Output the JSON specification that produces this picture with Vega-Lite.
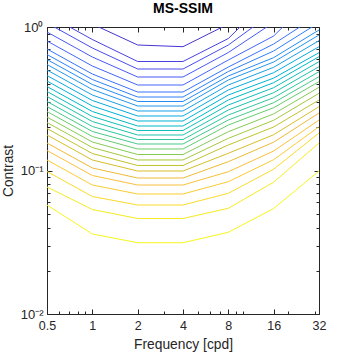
{
  "$schema": "https://vega.github.io/schema/vega-lite/v6.json",
  "width": 272,
  "height": 287,
  "autosize": {"type": "none"},
  "padding": {"left": 47, "top": 27, "right": 35, "bottom": 40},
  "background": "white",
  "title": {"text": "MS-SSIM", "fontSize": 14, "fontWeight": "bold", "font": "Liberation Sans", "color": "#000000", "offset": 5, "anchor": "middle"},
  "config": {
    "view": {"stroke": "#262626", "strokeWidth": 1},
    "axis": {"domain": false, "grid": false, "tickColor": "#262626", "tickWidth": 1, "labelFont": "Liberation Sans", "labelFontSize": 12.5, "labelColor": "#262626", "titleFont": "Liberation Sans", "titleFontSize": 13.8, "titleFontWeight": "normal", "titleColor": "#262626", "labelOverlap": false, "labelFlush": false}
  },
  "data": {"values": [
    {"level":1,"freq":0.5,"contrast":2.126},{"level":1,"freq":1,"contrast":1.049},{"level":1,"freq":2,"contrast":0.7492},{"level":1,"freq":4,"contrast":0.729},{"level":1,"freq":8,"contrast":1.049},{"level":1,"freq":16,"contrast":2.126},{"level":1,"freq":32,"contrast":4.04},
    {"level":2,"freq":0.5,"contrast":1.222},{"level":2,"freq":1,"contrast":0.8183},{"level":2,"freq":2,"contrast":0.5749},{"level":2,"freq":4,"contrast":0.5749},{"level":2,"freq":8,"contrast":0.8315},{"level":2,"freq":16,"contrast":1.698},{"level":2,"freq":32,"contrast":3.44},
    {"level":3,"freq":0.5,"contrast":1.0663},{"level":3,"freq":1,"contrast":0.714},{"level":3,"freq":2,"contrast":0.5097},{"level":3,"freq":4,"contrast":0.5097},{"level":3,"freq":8,"contrast":0.7492},{"level":3,"freq":16,"contrast":1.2721},{"level":3,"freq":32,"contrast":2.496},
    {"level":4,"freq":0.5,"contrast":0.9229},{"level":4,"freq":1,"contrast":0.6179},{"level":4,"freq":2,"contrast":0.4483},{"level":4,"freq":4,"contrast":0.4483},{"level":4,"freq":8,"contrast":0.6642},{"level":4,"freq":16,"contrast":1.0766},{"level":4,"freq":32,"contrast":2.126},
    {"level":5,"freq":0.5,"contrast":0.7988},{"level":5,"freq":1,"contrast":0.5349},{"level":5,"freq":2,"contrast":0.3943},{"level":5,"freq":4,"contrast":0.3943},{"level":5,"freq":8,"contrast":0.5889},{"level":5,"freq":16,"contrast":0.8655},{"level":5,"freq":32,"contrast":1.782},
    {"level":6,"freq":0.5,"contrast":0.7026},{"level":6,"freq":1,"contrast":0.4704},{"level":6,"freq":2,"contrast":0.3524},{"level":6,"freq":4,"contrast":0.3524},{"level":6,"freq":8,"contrast":0.5263},{"level":6,"freq":16,"contrast":0.7613},{"level":6,"freq":32,"contrast":1.222},
    {"level":7,"freq":0.5,"contrast":0.6432},{"level":7,"freq":1,"contrast":0.4307},{"level":7,"freq":2,"contrast":0.3252},{"level":7,"freq":4,"contrast":0.3252},{"level":7,"freq":8,"contrast":0.4897},{"level":7,"freq":16,"contrast":0.6804},{"level":7,"freq":32,"contrast":1.0731},
    {"level":8,"freq":0.5,"contrast":0.5936},{"level":8,"freq":1,"contrast":0.3975},{"level":8,"freq":2,"contrast":0.3026},{"level":8,"freq":4,"contrast":0.3026},{"level":8,"freq":8,"contrast":0.4556},{"level":8,"freq":16,"contrast":0.612},{"level":8,"freq":32,"contrast":0.953},
    {"level":9,"freq":0.5,"contrast":0.5479},{"level":9,"freq":1,"contrast":0.3668},{"level":9,"freq":2,"contrast":0.2815},{"level":9,"freq":4,"contrast":0.2815},{"level":9,"freq":8,"contrast":0.4272},{"level":9,"freq":16,"contrast":0.5703},{"level":9,"freq":32,"contrast":0.8795},
    {"level":10,"freq":0.5,"contrast":0.5016},{"level":10,"freq":1,"contrast":0.3358},{"level":10,"freq":2,"contrast":0.2598},{"level":10,"freq":4,"contrast":0.2598},{"level":10,"freq":8,"contrast":0.3943},{"level":10,"freq":16,"contrast":0.5238},{"level":10,"freq":32,"contrast":0.8027},
    {"level":11,"freq":0.5,"contrast":0.4592},{"level":11,"freq":1,"contrast":0.3075},{"level":11,"freq":2,"contrast":0.2398},{"level":11,"freq":4,"contrast":0.2398},{"level":11,"freq":8,"contrast":0.3639},{"level":11,"freq":16,"contrast":0.4803},{"level":11,"freq":32,"contrast":0.729},
    {"level":12,"freq":0.5,"contrast":0.4204},{"level":12,"freq":1,"contrast":0.2815},{"level":12,"freq":2,"contrast":0.2213},{"level":12,"freq":4,"contrast":0.2213},{"level":12,"freq":8,"contrast":0.3358},{"level":12,"freq":16,"contrast":0.4405},{"level":12,"freq":32,"contrast":0.6621},
    {"level":13,"freq":0.5,"contrast":0.3849},{"level":13,"freq":1,"contrast":0.2577},{"level":13,"freq":2,"contrast":0.2042},{"level":13,"freq":4,"contrast":0.2042},{"level":13,"freq":8,"contrast":0.31},{"level":13,"freq":16,"contrast":0.4091},{"level":13,"freq":32,"contrast":0.6209},
    {"level":14,"freq":0.5,"contrast":0.3553},{"level":14,"freq":1,"contrast":0.2379},{"level":14,"freq":2,"contrast":0.19},{"level":14,"freq":4,"contrast":0.19},{"level":14,"freq":8,"contrast":0.2861},{"level":14,"freq":16,"contrast":0.3776},{"level":14,"freq":32,"contrast":0.573},
    {"level":15,"freq":0.5,"contrast":0.3279},{"level":15,"freq":1,"contrast":0.2195},{"level":15,"freq":2,"contrast":0.1768},{"level":15,"freq":4,"contrast":0.1768},{"level":15,"freq":8,"contrast":0.264},{"level":15,"freq":16,"contrast":0.3485},{"level":15,"freq":32,"contrast":0.5289},
    {"level":16,"freq":0.5,"contrast":0.3026},{"level":16,"freq":1,"contrast":0.2026},{"level":16,"freq":2,"contrast":0.1644},{"level":16,"freq":4,"contrast":0.1644},{"level":16,"freq":8,"contrast":0.2436},{"level":16,"freq":16,"contrast":0.3216},{"level":16,"freq":32,"contrast":0.4881},
    {"level":17,"freq":0.5,"contrast":0.2792},{"level":17,"freq":1,"contrast":0.187},{"level":17,"freq":2,"contrast":0.153},{"level":17,"freq":4,"contrast":0.153},{"level":17,"freq":8,"contrast":0.2248},{"level":17,"freq":16,"contrast":0.2968},{"level":17,"freq":32,"contrast":0.4505},
    {"level":18,"freq":0.5,"contrast":0.2577},{"level":18,"freq":1,"contrast":0.1726},{"level":18,"freq":2,"contrast":0.1412},{"level":18,"freq":4,"contrast":0.1412},{"level":18,"freq":8,"contrast":0.2075},{"level":18,"freq":16,"contrast":0.2739},{"level":18,"freq":32,"contrast":0.4158},
    {"level":19,"freq":0.5,"contrast":0.236},{"level":19,"freq":1,"contrast":0.158},{"level":19,"freq":2,"contrast":0.1293},{"level":19,"freq":4,"contrast":0.1293},{"level":19,"freq":8,"contrast":0.1864},{"level":19,"freq":16,"contrast":0.248},{"level":19,"freq":32,"contrast":0.38},
    {"level":20,"freq":0.5,"contrast":0.216},{"level":20,"freq":1,"contrast":0.1446},{"level":20,"freq":2,"contrast":0.1184},{"level":20,"freq":4,"contrast":0.1184},{"level":20,"freq":8,"contrast":0.1676},{"level":20,"freq":16,"contrast":0.2238},{"level":20,"freq":32,"contrast":0.3451},
    {"level":21,"freq":0.5,"contrast":0.1962},{"level":21,"freq":1,"contrast":0.1313},{"level":21,"freq":2,"contrast":0.1084},{"level":21,"freq":4,"contrast":0.1084},{"level":21,"freq":8,"contrast":0.1506},{"level":21,"freq":16,"contrast":0.201},{"level":21,"freq":32,"contrast":0.31},
    {"level":22,"freq":0.5,"contrast":0.1768},{"level":22,"freq":1,"contrast":0.1184},{"level":22,"freq":2,"contrast":0.0992},{"level":22,"freq":4,"contrast":0.0992},{"level":22,"freq":8,"contrast":0.1318},{"level":22,"freq":16,"contrast":0.1776},{"level":22,"freq":32,"contrast":0.2784},
    {"level":23,"freq":0.5,"contrast":0.1554},{"level":23,"freq":1,"contrast":0.1041},{"level":23,"freq":2,"contrast":0.08865},{"level":23,"freq":4,"contrast":0.08865},{"level":23,"freq":8,"contrast":0.1152},{"level":23,"freq":16,"contrast":0.1575},{"level":23,"freq":32,"contrast":0.2516},
    {"level":24,"freq":0.5,"contrast":0.1378},{"level":24,"freq":1,"contrast":0.0923},{"level":24,"freq":2,"contrast":0.07924},{"level":24,"freq":4,"contrast":0.07924},{"level":24,"freq":8,"contrast":0.09809},{"level":24,"freq":16,"contrast":0.1367},{"level":24,"freq":32,"contrast":0.2248},
    {"level":25,"freq":0.5,"contrast":0.1184},{"level":25,"freq":1,"contrast":0.07924},{"level":25,"freq":2,"contrast":0.06859},{"level":25,"freq":4,"contrast":0.06859},{"level":25,"freq":8,"contrast":0.08355},{"level":25,"freq":16,"contrast":0.1189},{"level":25,"freq":32,"contrast":0.2019},
    {"level":26,"freq":0.5,"contrast":0.09841},{"level":26,"freq":1,"contrast":0.06588},{"level":26,"freq":2,"contrast":0.05748},{"level":26,"freq":4,"contrast":0.05748},{"level":26,"freq":8,"contrast":0.06937},{"level":26,"freq":16,"contrast":0.1021},{"level":26,"freq":32,"contrast":0.1825},
    {"level":27,"freq":0.5,"contrast":0.07674},{"level":27,"freq":1,"contrast":0.05349},{"level":27,"freq":2,"contrast":0.04629},{"level":27,"freq":4,"contrast":0.04629},{"level":27,"freq":8,"contrast":0.05453},{"level":27,"freq":16,"contrast":0.08289},{"level":27,"freq":32,"contrast":0.1554},
    {"level":28,"freq":0.5,"contrast":0.05748},{"level":28,"freq":1,"contrast":0.0361},{"level":28,"freq":2,"contrast":0.03139},{"level":28,"freq":4,"contrast":0.03139},{"level":28,"freq":8,"contrast":0.0371},{"level":28,"freq":16,"contrast":0.05435},{"level":28,"freq":32,"contrast":0.0992}
  ]},
  "layer": [
    {
      "mark": {"type": "line", "clip": true, "strokeWidth": 1},
      "encoding": {
        "x": {"field": "freq", "type": "quantitative",
          "scale": {"type": "log", "base": 2, "domain": [0.5, 32], "nice": false},
          "axis": {"orient": "bottom", "title": "Frequency [cpd]", "format": "~g",
            "values": [0.5,0.6,0.7,0.8,0.9,1,2,3,4,5,6,7,8,9,10,16,20,30,32],
            "labelExpr": "indexof([0.5,1,2,4,8,16,32], datum.value) >= 0 ? datum.label : ''",
            "tickSize": {"condition": {"test": "indexof([0.5,1,2,4,8,16,32], datum.value) >= 0", "value": -5}, "value": -3},
            "labelPadding": 10, "titlePadding": 4}},
        "y": {"field": "contrast", "type": "quantitative",
          "scale": {"type": "log", "domain": [0.01, 1], "nice": false},
          "axis": {"orient": "left", "title": "Contrast",
            "values": [0.01,0.02,0.03,0.04,0.05,0.06,0.07,0.08,0.09,0.1,0.2,0.3,0.4,0.5,0.6,0.7,0.8,0.9,1],
            "labelExpr": "datum.value == 1 ? '10⁰' : datum.value == 0.1 ? '10⁻¹' : datum.value == 0.01 ? '10⁻²' : ''",
            "labelFontSize": 13,
            "tickSize": {"condition": {"test": "indexof([0.01,0.1,1], datum.value) >= 0", "value": -5}, "value": -3},
            "labelPadding": 9, "titlePadding": 5}},
        "color": {"field": "level", "type": "quantitative", "legend": null,
          "scale": {"domain": [-0.7,1.16,3.021,4.881,6.741,8.602,10.462,12.322,14.183,16.043,17.903,19.763,21.624,23.484,25.344,27.205,28.6],
            "range": ["#3e26a8","#4537d5","#484df0","#4563fd","#327cfc","#2b91ef","#20a5e3","#08b5d0","#19bfb6","#31c69f","#64cd6f","#9dc943","#d1bf27","#f8ba3d","#fccf30","#f5ef20","#f9fb15"]}},
        "detail": {"field": "level", "type": "nominal"}
      }
    },
    {
      "mark": {"type": "line", "clip": true, "opacity": 0},
      "encoding": {
        "x": {"field": "freq", "type": "quantitative",
          "scale": {"type": "log", "base": 2, "domain": [0.5, 32], "nice": false},
          "axis": {"orient": "top", "title": null, "labels": false,
            "values": [0.5,0.6,0.7,0.8,0.9,1,2,3,4,5,6,7,8,9,10,16,20,30,32],
            "tickSize": {"condition": {"test": "indexof([0.5,1,2,4,8,16,32], datum.value) >= 0", "value": -5}, "value": -3}}},
        "y": {"field": "contrast", "type": "quantitative",
          "scale": {"type": "log", "domain": [0.01, 1], "nice": false},
          "axis": {"orient": "right", "title": null, "labels": false,
            "values": [0.01,0.02,0.03,0.04,0.05,0.06,0.07,0.08,0.09,0.1,0.2,0.3,0.4,0.5,0.6,0.7,0.8,0.9,1],
            "tickSize": {"condition": {"test": "indexof([0.01,0.1,1], datum.value) >= 0", "value": -5}, "value": -3}}},
        "detail": {"field": "level", "type": "nominal"}
      }
    }
  ]
}
